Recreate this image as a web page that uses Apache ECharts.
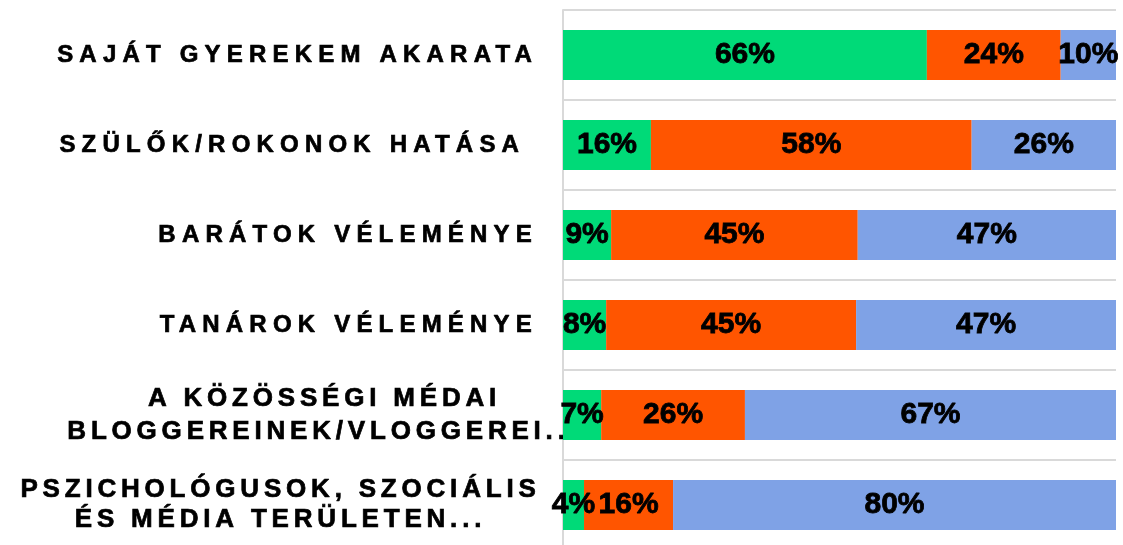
<!DOCTYPE html>
<html>
<head>
<meta charset="utf-8">
<script src="https://cdn.jsdelivr.net/npm/echarts@6/dist/echarts.min.js"></script>
<style>
  html, body { margin: 0; padding: 0; background: #fff; }
  #chart { width: 1123px; height: 545px; }
</style>
</head>
<body>
<div id="chart"></div>
<script>
// ---- data ----
const categories = [
  'SAJÁT GYEREKEM AKARATA',
  'SZÜLŐK/ROKONOK HATÁSA ',
  'BARÁTOK VÉLEMÉNYE',
  'TANÁROK VÉLEMÉNYE',
  'A KÖZÖSSÉGI MÉDAI\nBLOGGEREINEK/VLOGGEREI...',
  'PSZICHOLÓGUSOK, SZOCIÁLIS\nÉS MÉDIA TERÜLETEN...'
];
const seriesNames = ['Sorozat 1', 'Sorozat 2', 'Sorozat 3'];
const greenValues  = [65.8, 15.9, 8.7, 7.8, 6.9, 3.8];
const orangeValues = [24.2, 58.0, 44.6, 45.2, 26.0, 16.1];
const blueValues   = [10.0, 26.1, 46.7, 47.0, 67.1, 80.1];
const colors = ['#00DA78', '#FF5500', '#7FA2E6'];

// letter spacing for category labels (canvas letterSpacing), keyed by font size
const SINGLE_SIZE = 24, MULTI_SIZE = 26;
const spacingBySize = { 24: '6.2px', 26: '4.8px' };
(function () {
  const proto = CanvasRenderingContext2D.prototype;
  const fill = proto.fillText, stroke = proto.strokeText, measure = proto.measureText;
  function apply(ctx) {
    const m = /(\d+(?:\.\d+)?)px/.exec(ctx.font);
    const sp = m && spacingBySize[m[1]];
    try { ctx.letterSpacing = sp || '0px'; } catch (e) {}
  }
  proto.fillText = function () { apply(this); return fill.apply(this, arguments); };
  proto.strokeText = function () { apply(this); return stroke.apply(this, arguments); };
  proto.measureText = function () { apply(this); return measure.apply(this, arguments); };
})();

const chart = echarts.init(document.getElementById('chart'), null, { renderer: 'canvas' });

const baseFont = {
  fontFamily: 'Liberation Sans', fontWeight: 'bold', color: '#000',
  textBorderColor: '#000', textBorderWidth: 0.7
};

function makeSeries(name, data, color) {
  return {
    name: name,
    type: 'bar',
    stack: 'total',
    barWidth: 50,
    data: data,
    itemStyle: { color: color },
    label: {
      show: true,
      position: 'inside',
      formatter: p => Math.round(p.value) + '%',
      fontFamily: 'Liberation Sans',
      fontWeight: 'bold',
      fontSize: 30,
      color: '#000',
      textBorderColor: '#000',
      textBorderWidth: 0.8
    },
    emphasis: { disabled: true }
  };
}

chart.setOption({
  animation: false,
  backgroundColor: '#fff',
  grid: { left: 563, right: 7, top: 10, bottom: -5, containLabel: false, outerBoundsMode: 'none' },
  xAxis: { type: 'value', min: 0, max: 100, show: false },
  yAxis: {
    type: 'category',
    inverse: true,
    data: categories,
    axisTick: { show: false },
    axisLine: { show: true, lineStyle: { color: '#d9d9d9', width: 2 } },
    splitLine: { show: true, lineStyle: { color: '#d9d9d9', width: 2 } },
    axisLabel: Object.assign({
      margin: 25,
      align: 'right',
      fontSize: SINGLE_SIZE,
      formatter: function (v, idx) {
        if (v.indexOf('\n') < 0) return v;
        const key = idx === 4 ? 'm5' : 'm6';
        return v.split('\n').map(l => '{' + key + '|' + l + '}').join('\n');
      },
      rich: {
        m5: Object.assign({ width: 427, align: 'center', lineHeight: 33, fontSize: MULTI_SIZE }, baseFont),
        m6: Object.assign({ width: 515, align: 'center', lineHeight: 30, fontSize: MULTI_SIZE }, baseFont)
      }
    }, baseFont)
  },
  series: [
    makeSeries(seriesNames[0], greenValues, colors[0]),
    makeSeries(seriesNames[1], orangeValues, colors[1]),
    makeSeries(seriesNames[2], blueValues, colors[2])
  ]
});
</script>
</body>
</html>
